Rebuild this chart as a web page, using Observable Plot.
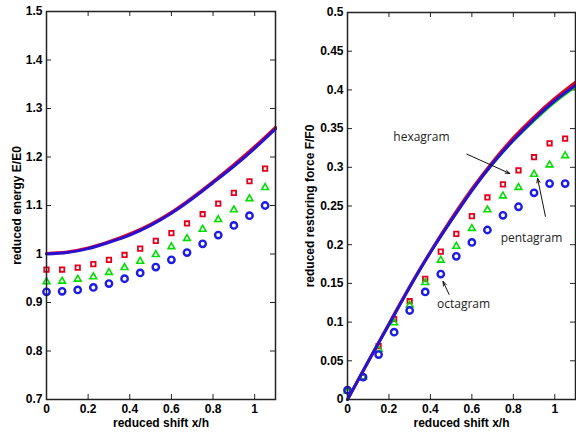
<!DOCTYPE html>
<html>
<head>
<meta charset="utf-8">
<script src="https://cdn.jsdelivr.net/npm/d3@7"></script>
<script src="https://cdn.jsdelivr.net/npm/@observablehq/plot@0.6"></script>
<style>
  html, body { margin: 0; padding: 0; background: #fff; }
  #wrap { position: relative; width: 576px; height: 437px; overflow: hidden; background: #fff; }
  #left, #right { position: absolute; top: 0; }
  #left { left: 0; }
  #right { left: 290px; }
</style>
</head>
<body>
<div id="wrap"><div id="left"></div><div id="right"></div></div>
<script>
// ---- data ----
const shift = [0, 0.075, 0.15, 0.225, 0.3, 0.375, 0.45, 0.525, 0.6, 0.675, 0.75, 0.825, 0.9, 0.975, 1.05];

const energyHexagram  = [0.968, 0.968, 0.972, 0.979, 0.988, 0.998, 1.011, 1.027, 1.043, 1.063, 1.082, 1.104, 1.126, 1.150, 1.176];
const energyPentagram = [0.943, 0.944, 0.948, 0.953, 0.962, 0.972, 0.985, 0.999, 1.015, 1.032, 1.051, 1.071, 1.091, 1.114, 1.137];
const energyOctagram  = [0.922, 0.923, 0.926, 0.931, 0.939, 0.949, 0.961, 0.973, 0.988, 1.003, 1.021, 1.039, 1.059, 1.079, 1.100];

const forceHexagram  = [0.011, 0.029, 0.069, 0.104, 0.127, 0.156, 0.191, 0.214, 0.237, 0.261, 0.278, 0.296, 0.313, 0.331, 0.337];
const forcePentagram = [0.011, 0.029, 0.065, 0.099, 0.122, 0.151, 0.180, 0.198, 0.221, 0.245, 0.263, 0.274, 0.291, 0.303, 0.315];
const forceOctagram  = [0.012, 0.029, 0.058, 0.087, 0.115, 0.139, 0.162, 0.185, 0.203, 0.219, 0.238, 0.249, 0.267, 0.279, 0.279];

const curveShift = [0, 0.1, 0.2, 0.3, 0.4, 0.5, 0.6, 0.7, 0.8, 0.9, 1.0, 1.1];
const energyCurveRed  = [1.000, 1.003, 1.011, 1.024, 1.040, 1.060, 1.085, 1.115, 1.148, 1.183, 1.220, 1.260];
const energyCurveBlue = [1.000, 1.003, 1.011, 1.024, 1.039, 1.059, 1.084, 1.114, 1.147, 1.181, 1.218, 1.258];
const forceCurveRed   = [0, 0.049, 0.098, 0.146, 0.191, 0.233, 0.272, 0.307, 0.338, 0.365, 0.389, 0.410];
const forceCurveGreen = [0, 0.049, 0.097, 0.145, 0.190, 0.231, 0.270, 0.304, 0.334, 0.360, 0.384, 0.404];
const forceCurveBlue  = [0, 0.049, 0.097, 0.145, 0.190, 0.231, 0.270, 0.305, 0.335, 0.362, 0.386, 0.406];

const xTicks = [0, 0.2, 0.4, 0.6, 0.8, 1];
const xTickLabels = ["0", "0.2", "0.4", "0.6", "0.8", "1"];
const energyTicks = [0.7, 0.8, 0.9, 1.0, 1.1, 1.2, 1.3, 1.4, 1.5];
const energyTickLabels = ["0.7", "0.8", "0.9", "1", "1.1", "1.2", "1.3", "1.4", "1.5"];
const forceTicks = [0, 0.05, 0.1, 0.15, 0.2, 0.25, 0.3, 0.35, 0.4, 0.45, 0.5];
const forceTickLabels = ["0", "0.05", "0.1", "0.15", "0.2", "0.25", "0.3", "0.35", "0.4", "0.45", "0.5"];

// annotation anchors, in data units of the right panel
const labelNames = ["hexagram", "pentagram", "octagram"];
const labelX = [0.221, 0.739, 0.432];
const labelY = [0.339, 0.2086, 0.1228];
const arrowX1 = [0.576, 0.955, 0.490];
const arrowY1 = [0.317, 0.2366, 0.1358];
const arrowX2 = [0.783, 0.917, 0.461];
const arrowY2 = [0.292, 0.2857, 0.1526];

// ---- styling ----
const RED = "#e4001c", GREEN = "#00dd00", BLUE = "#1c1ce6", LINEBLUE = "#2a10d0";
const FONT = "'Liberation Sans', Arial, Helvetica, sans-serif";

function pts(xs, ys) { return xs.map((x, i) => ({x, y: ys[i]})); }

function panel({width, marginLeft, marginRight, marginTop, yDomain, yTicks, yTickLabels, yLabel, yLabelDx, markers, curves, extra = []}) {
  const height = 437, marginBottom = 38;
  const plotH = height - marginTop - marginBottom;
  const plotW = width - marginLeft - marginRight;
  const tick = 5;
  const xl = d => xTickLabels[xTicks.indexOf(d)];
  const yl = d => yTickLabels[yTicks.indexOf(d)];
  return Plot.plot({
    width, height, marginLeft, marginRight, marginTop, marginBottom,
    style: {fontFamily: FONT, fontSize: "12px", fontWeight: "bold", color: "#000", background: "#fff", overflow: "visible"},
    x: {domain: [0, 1.1]},
    y: {domain: yDomain},
    marks: [
      // inward ticks, all four sides
      Plot.tickX(xTicks, {x: d => d, insetTop: plotH - tick, stroke: "#222", strokeWidth: 1}),
      Plot.tickX(xTicks, {x: d => d, insetBottom: plotH - tick, stroke: "#222", strokeWidth: 1}),
      Plot.tickY(yTicks, {y: d => d, insetRight: plotW - tick, stroke: "#222", strokeWidth: 1}),
      Plot.tickY(yTicks, {y: d => d, insetLeft: plotW - tick, stroke: "#222", strokeWidth: 1}),
      Plot.axisX(xTicks, {tickSize: 0, tickPadding: 5, tickFormat: xl, label: null, fontWeight: "bold"}),
      Plot.axisY(yTicks, {tickSize: 0, tickPadding: 4, tickFormat: yl, label: null, fontWeight: "bold"}),
      Plot.text(["reduced shift x/h"], {frameAnchor: "bottom", textAnchor: "middle", lineAnchor: "middle", dy: 24, fontFamily: FONT, fontWeight: "bold", fontSize: 12}),
      Plot.text([yLabel], {frameAnchor: "left", textAnchor: "middle", lineAnchor: "middle", dx: yLabelDx, rotate: -90, fontFamily: FONT, fontWeight: "bold", fontSize: 12}),
      ...markers,
      ...curves,
      ...extra,
      Plot.frame({stroke: "#222", strokeWidth: 1.5})
    ]
  });
}

function markerSet(sq, tri, circ) {
  return [
    Plot.dot(pts(shift, sq), {x: "x", y: "y", symbol: "square", r: 2.5, stroke: RED, strokeWidth: 1.8, fill: "none"}),
    Plot.dot(pts(shift, tri), {x: "x", y: "y", symbol: "triangle", r: 2.5, stroke: GREEN, strokeWidth: 1.6, fill: "none"}),
    Plot.dot(pts(shift, circ), {x: "x", y: "y", symbol: "circle", r: 3.2, stroke: BLUE, strokeWidth: 2.4, fill: "none"})
  ];
}

const left = panel({
  width: 290, marginLeft: 46, marginRight: 15, marginTop: 11,
  yDomain: [0.7, 1.5], yTicks: energyTicks, yTickLabels: energyTickLabels,
  yLabel: "reduced energy E/E0", yLabelDx: -29,
  markers: markerSet(energyHexagram, energyPentagram, energyOctagram),
  curves: [
    Plot.line(pts(curveShift, energyCurveRed), {x: "x", y: "y", stroke: RED, strokeWidth: 3, curve: "natural", dy: -0.6}),
    Plot.line(pts(curveShift, energyCurveBlue), {x: "x", y: "y", stroke: LINEBLUE, strokeWidth: 3, curve: "natural"})
  ]
});

const annot = labelNames.map((name, i) => ({name, x: labelX[i], y: labelY[i], x1: arrowX1[i], y1: arrowY1[i], x2: arrowX2[i], y2: arrowY2[i]}));

const right = panel({
  width: 286, marginLeft: 57, marginRight: 1, marginTop: 12,
  yDomain: [0, 0.5], yTicks: forceTicks, yTickLabels: forceTickLabels,
  yLabel: "reduced restoring force F/F0", yLabelDx: -37,
  markers: markerSet(forceHexagram, forcePentagram, forceOctagram),
  curves: [
    Plot.line(pts(curveShift, forceCurveRed), {x: "x", y: "y", stroke: RED, strokeWidth: 3, curve: "natural"}),
    Plot.line(pts(curveShift, forceCurveGreen), {x: "x", y: "y", stroke: GREEN, strokeWidth: 2.5, curve: "natural"}),
    Plot.line(pts(curveShift, forceCurveBlue), {x: "x", y: "y", stroke: LINEBLUE, strokeWidth: 3, curve: "natural"})
  ],
  extra: [
    Plot.arrow(annot, {x1: "x1", y1: "y1", x2: "x2", y2: "y2", stroke: "#111", strokeWidth: 1, headLength: 7, headAngle: 40}),
    Plot.text(annot, {x: "x", y: "y", text: "name", textAnchor: "start", fontFamily: "'Open Sans', 'Noto Sans', sans-serif", fontWeight: "normal", fontSize: 12, fill: "#222"})
  ]
});

document.getElementById("left").appendChild(left);
document.getElementById("right").appendChild(right);
</script>
</body>
</html>
